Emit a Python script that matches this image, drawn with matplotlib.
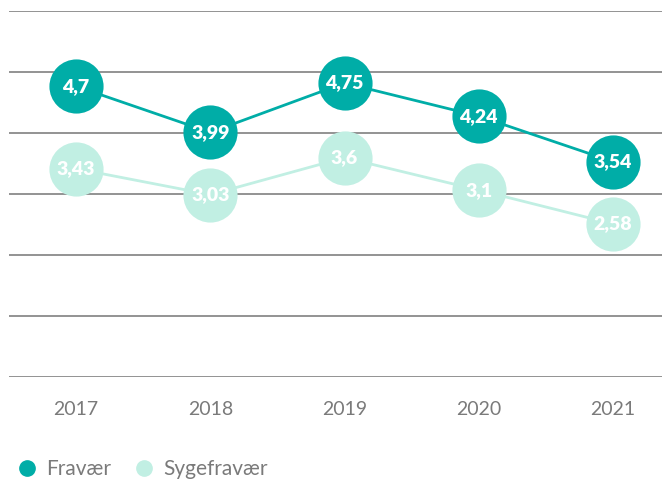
import matplotlib.pyplot as plt
import numpy as np
from matplotlib.lines import Line2D

years = ["2017", "2018", "2019", "2020", "2021"]
fravaer = [4.7, 3.99, 4.75, 4.24, 3.54]
sygefravaer = [3.43, 3.03, 3.6, 3.1, 2.58]
series_names = ["Fravær", "Sygefravær"]

DARK = "#00ada7"
LIGHT = "#c1efe3"
GRID = "#8a8a8a"
TEXT = "#7a7a7a"


def label(v):
    return f"{v:g}".replace(".", ",")


fig = plt.figure(figsize=(6.62, 4.79), dpi=100)
ax = fig.add_axes([9 / 662, 102 / 479, 671 / 662, 366 / 479])

x = np.arange(len(years))
ymin, ymax = 0.22, 5.86
ax.set_xlim(-0.5, len(years) - 0.5)
ax.set_ylim(ymin, ymax)
ax.set_yticks(np.linspace(ymin, ymax, 7))
ax.yaxis.grid(True, color=GRID, linewidth=1.3)
ax.set_axisbelow(True)
ax.tick_params(axis="y", left=False, labelleft=False)
ax.tick_params(axis="x", bottom=False, labelsize=14, labelcolor=TEXT, pad=14)
ax.set_xticks(x)
ax.set_xticklabels(years, family="Lato")
for spine in ax.spines.values():
    spine.set_visible(False)

ax.plot(x, sygefravaer, color=LIGHT, linewidth=2, zorder=2)
ax.plot(x, sygefravaer, "o", color=LIGHT, markersize=39, markeredgewidth=0, zorder=3)
ax.plot(x, fravaer, color=DARK, linewidth=2, zorder=4)
ax.plot(x, fravaer, "o", color=DARK, markersize=39, markeredgewidth=0, zorder=5)

for xi, v in zip(x, sygefravaer):
    ax.text(xi, v, label(v), ha="center", va="center", color="white",
            fontsize=14, fontweight="heavy", family="Lato", zorder=6)
for xi, v in zip(x, fravaer):
    ax.text(xi, v, label(v), ha="center", va="center", color="white",
            fontsize=14, fontweight="heavy", family="Lato", zorder=6)

handles = [
    Line2D([], [], marker="o", linestyle="", color=DARK, markersize=11),
    Line2D([], [], marker="o", linestyle="", color=LIGHT, markersize=11),
]
leg = fig.legend(handles, series_names, loc="lower left", bbox_to_anchor=(-0.006, -0.04),
                 ncol=2, frameon=False, handlelength=1.2, handletextpad=0.3,
                 columnspacing=1.0, prop={"family": "Lato", "size": 15})
for t in leg.get_texts():
    t.set_color(TEXT)

fig.savefig("out.png", dpi=100)
